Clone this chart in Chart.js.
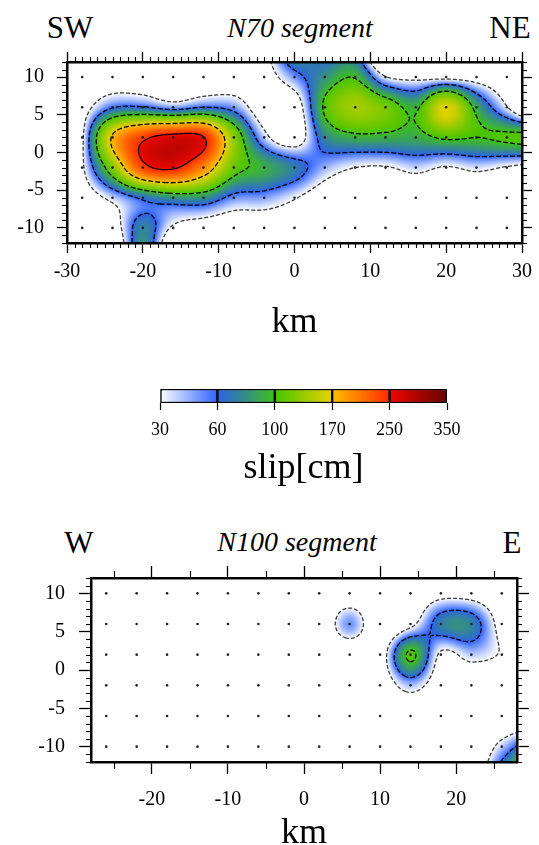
<!DOCTYPE html>
<html><head><meta charset="utf-8">
<script src="https://cdn.jsdelivr.net/npm/chart.js@4.4.1/dist/chart.umd.min.js"></script>
<style>
html,body{margin:0;padding:0;background:#fff;}
body{width:539px;height:845px;position:relative;overflow:hidden;font-family:'Liberation Serif','Times New Roman',serif;}
canvas{position:absolute;left:0;}
.lbl{position:absolute;transform:translate(-50%,-50%);white-space:nowrap;color:#000;line-height:1;}
.big{font-size:31px;}
.seg{font-size:28px;font-style:italic;}
</style></head><body>
<div class="lbl big" style="left:70px;top:27px">SW</div>
<div class="lbl seg" style="left:300px;top:28px">N70 segment</div>
<div class="lbl big" style="left:510px;top:27px">NE</div>
<div class="lbl big" style="left:79px;top:542px">W</div>
<div class="lbl seg" style="left:297px;top:542px">N100 segment</div>
<div class="lbl big" style="left:512px;top:542px">E</div>
<canvas id="c1" width="539" height="345" style="top:0"></canvas>
<canvas id="c2" width="539" height="130" style="top:370px"></canvas>
<canvas id="c3" width="539" height="340" style="top:530px"></canvas>
<script>
// ---------------- data ----------------
const TOP_X = [-28,-24,-20,-16,-12,-8,-4,0,4,8,12,16,20,24,28];
const TOP_Y = [10,6,2,-2,-6,-10];
const TOP_SLIP = [
  [5,5,5,5,5,5,15,50,80,98,32,22,20,15,5],
  [15,58,62,48,60,50,10,10,105,140,120,95,165,90,32],
  [24,175,240,265,252,130,40,12,75,92,92,90,105,100,105],
  [24,125,235,255,200,115,92,72,45,30,28,38,28,36,28],
  [10,38,65,80,80,52,48,32,12,5,5,5,5,5,5],
  [3,12,75,25,8,3,3,3,3,3,3,3,3,3,3]
];
const BOT_X = [-26,-22,-18,-14,-10,-6,-2,2,6,10,14,18,22,26];
const BOT_Y = [10,6,2,-2,-6,-10];
const BOT_SLIP = [
  [0,0,0,0,0,0,0,0,0,0,0,18,15,0],
  [0,0,0,0,0,0,0,0,50,0,22,72,74,15],
  [0,0,0,0,0,0,0,0,0,12,105,25,40,28],
  [0,0,0,0,0,0,0,0,0,8,42,10,0,0],
  [0,0,0,0,0,0,0,0,0,0,0,0,0,0],
  [0,0,0,0,0,0,0,0,0,0,0,0,0,40]
];
const CB_LEVELS = [30,60,100,170,250,350];
const CONTOUR_LEVELS = [30,60,100,170,250];
const CB_COLORS = [
  ['#ffffff','#2f63ff'],
  ['#2d62e6','#3dbf1c'],
  ['#46c400','#e9d200'],
  ['#ffc000','#ff2a00'],
  ['#f00800','#650000']
];
const SERIF = "'Liberation Serif','Times New Roman',serif";

// ---------------- helpers ----------------
function hexRgb(h){return [parseInt(h.slice(1,3),16),parseInt(h.slice(3,5),16),parseInt(h.slice(5,7),16)];}
const CB_RGB = CB_COLORS.map(p=>p.map(hexRgb));
function slipColor(v){
  if(v < CB_LEVELS[0]) return null;
  for(let k=0;k<CB_LEVELS.length-1;k++){
    if(v <= CB_LEVELS[k+1] || k===CB_LEVELS.length-2){
      const t=Math.min(1,(v-CB_LEVELS[k])/(CB_LEVELS[k+1]-CB_LEVELS[k]));
      const a=CB_RGB[k][0], b=CB_RGB[k][1];
      return [a[0]+(b[0]-a[0])*t, a[1]+(b[1]-a[1])*t, a[2]+(b[2]-a[2])*t];
    }
  }
  return null;
}
// smooth (Catmull-Rom) surface through the grid values, with one linearly
// extrapolated ghost row/column on each side so the field runs to the frame
function makeInterp(xs, ys, grid){
  const nx=xs.length, ny=ys.length, dx=xs[1]-xs[0], dy=ys[1]-ys[0];
  const ext=[];
  for(let j=-1;j<=ny;j++){
    const jj=Math.min(ny-1,Math.max(0,j));
    const row=[];
    for(let i=-1;i<=nx;i++){
      const ii=Math.min(nx-1,Math.max(0,i));
      let v=grid[jj][ii];
      if(i<0) v=2*grid[jj][0]-grid[jj][1];
      if(i>=nx) v=2*grid[jj][nx-1]-grid[jj][nx-2];
      row.push(v);
    }
    ext.push(row);
  }
  for(let i=0;i<nx+2;i++){
    ext[0][i]=2*ext[1][i]-ext[2][i];
    ext[ny+1][i]=2*ext[ny][i]-ext[ny-1][i];
  }
  const NX=nx+2, NY=ny+2;
  const g=(j,i)=>ext[Math.min(NY-1,Math.max(0,j))][Math.min(NX-1,Math.max(0,i))];
  const cr=(p0,p1,p2,p3,t)=>0.5*(2*p1+(-p0+p2)*t+(2*p0-5*p1+4*p2-p3)*t*t+(-p0+3*p1-3*p2+p3)*t*t*t);
  return (x,y)=>{
    let fi=(x-xs[0])/dx+1, fj=(y-ys[0])/dy+1;
    fi=Math.max(0,Math.min(NX-1,fi)); fj=Math.max(0,Math.min(NY-1,fj));
    const i=Math.min(NX-2,Math.floor(fi)), j=Math.min(NY-2,Math.floor(fj));
    const tx=fi-i, ty=fj-j; const r=[];
    for(let m=-1;m<=2;m++) r.push(cr(g(j+m,i-1),g(j+m,i),g(j+m,i+1),g(j+m,i+2),tx));
    return cr(r[0],r[1],r[2],r[3],ty);
  };
}
function contourLines(V,nx,ny,L){
  const P=new Map(); const segs=[];
  const add=(key,fx,fy)=>{ if(!P.has(key)) P.set(key,[fx,fy]); return key; };
  for(let j=0;j<ny-1;j++) for(let i=0;i<nx-1;i++){
    const a=V[j][i], b=V[j][i+1], c=V[j+1][i+1], d=V[j+1][i];
    const A=a<L,B=b<L,C=c<L,D=d<L;
    if(A===B&&B===C&&C===D) continue;
    const e=[];
    if(A!==B) e.push(add('h'+i+'_'+j, i+(L-a)/(b-a), j));
    if(B!==C) e.push(add('v'+(i+1)+'_'+j, i+1, j+(L-b)/(c-b)));
    if(D!==C) e.push(add('h'+i+'_'+(j+1), i+(L-d)/(c-d), j+1));
    if(A!==D) e.push(add('v'+i+'_'+j, i, j+(L-a)/(d-a)));
    if(e.length===2) segs.push(e);
    else if(e.length===4){ const m=(a+b+c+d)/4;
      if((m<L)===A){segs.push([e[0],e[1]]);segs.push([e[2],e[3]]);}
      else {segs.push([e[0],e[3]]);segs.push([e[1],e[2]]);} }
  }
  const adj=new Map();
  segs.forEach((s,n)=>s.forEach(k=>{ if(!adj.has(k)) adj.set(k,[]); adj.get(k).push(n); }));
  const used=new Array(segs.length).fill(false); const lines=[];
  for(let n=0;n<segs.length;n++){
    if(used[n]) continue; used[n]=true;
    const line=[segs[n][0],segs[n][1]];
    for(const dir of [1,-1]){
      while(true){
        const end = dir===1 ? line[line.length-1] : line[0];
        const cand=(adj.get(end)||[]).find(q=>!used[q]);
        if(cand===undefined) break;
        used[cand]=true;
        const s=segs[cand]; const nxt = s[0]===end ? s[1] : s[0];
        if(dir===1) line.push(nxt); else line.unshift(nxt);
      }
    }
    lines.push(line.map(k=>P.get(k)));
  }
  return lines;
}
function contourStyle(lv){
  if(lv===30) return {color:'#3a3a3a', width:1.3, dash:[4,2]};
  if(lv===250) return {color:'#000', width:1.2, dash:[]};
  return {color:'#000', width:1.3, dash:[5,2]};
}
function makeSlipPlugin(xs, ys, grid){
  const f=makeInterp(xs,ys,grid);
  return { id:'slipField', beforeDatasetsDraw(chart){
    const ctx=chart.ctx, a=chart.chartArea, sx=chart.scales.x, sy=chart.scales.y;
    const L=Math.round(a.left), T=Math.round(a.top), W=Math.round(a.right)-L, H=Math.round(a.bottom)-T;
    const off=document.createElement('canvas'); off.width=W; off.height=H;
    const o=off.getContext('2d'); const img=o.createImageData(W,H); const d=img.data;
    for(let py=0;py<H;py++){ const yv=sy.getValueForPixel(T+py+0.5);
      for(let px=0;px<W;px++){ const xv=sx.getValueForPixel(L+px+0.5); const c=slipColor(f(xv,yv)); const k=(py*W+px)*4;
        if(c){d[k]=c[0];d[k+1]=c[1];d[k+2]=c[2];d[k+3]=255;} } }
    o.putImageData(img,0,0); ctx.drawImage(off,L,T);
    const step=0.2, x0=sx.min, y0=sy.min;
    const nx=Math.round((sx.max-x0)/step)+1, ny=Math.round((sy.max-y0)/step)+1;
    const V=[]; for(let j=0;j<ny;j++){ const r=new Float64Array(nx); for(let i=0;i<nx;i++) r[i]=f(x0+i*step,y0+j*step); V.push(r); }
    ctx.save(); ctx.beginPath(); ctx.rect(a.left,a.top,a.right-a.left,a.bottom-a.top); ctx.clip();
    CONTOUR_LEVELS.forEach(lv=>{
      const st=contourStyle(lv); ctx.strokeStyle=st.color; ctx.lineWidth=st.width; ctx.setLineDash(st.dash); ctx.lineJoin='round';
      contourLines(V,nx,ny,lv).forEach(pts=>{
        ctx.beginPath();
        pts.forEach((p,n)=>{ const X=sx.getPixelForValue(x0+p[0]*step), Y=sy.getPixelForValue(y0+p[1]*step); n?ctx.lineTo(X,Y):ctx.moveTo(X,Y); });
        ctx.stroke();
      });
    });
    ctx.restore();
  }};
}
function makeMinorTicks(o){
  return { id:'minorTicks', afterDraw(chart){
    const ctx=chart.ctx, a=chart.chartArea, sx=chart.scales.x, sy=chart.scales.y;
    ctx.save(); ctx.strokeStyle='#000'; ctx.lineWidth=1.1; ctx.setLineDash([]);
    const ln=(x1,y1,x2,y2)=>{ctx.beginPath();ctx.moveTo(x1,y1);ctx.lineTo(x2,y2);ctx.stroke();};
    for(let k=Math.ceil(sx.min/o.xStep);k*o.xStep<=sx.max+1e-9;k++){
      const v=k*o.xStep; if(Math.abs(v/o.xMajor-Math.round(v/o.xMajor))<1e-9) continue;
      const p=Math.round(sx.getPixelForValue(v))+0.5; ln(p,a.top,p,a.top-o.xLen); ln(p,a.bottom,p,a.bottom+o.xLen);
    }
    for(let k=Math.ceil(sy.min/o.yStep);k*o.yStep<=sy.max+1e-9;k++){
      const v=k*o.yStep; if(Math.abs(v/o.yMajor-Math.round(v/o.yMajor))<1e-9) continue;
      const p=Math.round(sy.getPixelForValue(v))+0.5; ln(a.left,p,a.left-o.yLen,p); ln(a.right,p,a.right+o.yLen,p);
    }
    ctx.restore();
  }};
}
function panelScales(o){
  const grid={drawOnChartArea:false,drawTicks:true,tickLength:o.tl,tickColor:'#000',tickWidth:1.3};
  const border={display:true,color:'#000',width:2.5,z:1};
  const tfont={family:SERIF,size:20};
  return {
    x:{type:'linear',position:'bottom',min:o.xmin,max:o.xmax,
       ticks:{stepSize:10,includeBounds:false,color:'#000',font:tfont,padding:o.xPad,maxRotation:0,callback:v=>String(v)},
       grid, border,
       title:{display:true,text:'km',color:'#000',font:{family:SERIF,size:36,lineHeight:1.2},padding:{top:0,bottom:o.titlePad}},
       afterFit:s=>{s.height=o.xH;}},
    xt:{type:'linear',position:'top',min:o.xmin,max:o.xmax,
       ticks:{display:false,stepSize:10,includeBounds:false}, grid, border,
       afterFit:s=>{s.height=o.top;}},
    y:{type:'linear',position:'left',min:-12,max:12,
       ticks:{stepSize:5,includeBounds:false,color:'#000',font:tfont,padding:o.yPad,callback:v=>String(v)},
       grid, border, afterFit:s=>{s.width=o.left;}},
    yr:{type:'linear',position:'right',min:-12,max:12,
       ticks:{display:false,stepSize:5,includeBounds:false}, grid, border,
       afterFit:s=>{s.width=o.right;}}
  };
}
function dots(xs,ys){ return ys.flatMap(yv=>xs.map(xv=>({x:xv,y:yv}))); }
const common={responsive:false,animation:false,events:[],devicePixelRatio:1,
  plugins:{legend:{display:false},tooltip:{enabled:false},title:{display:false}}};

// ---------------- top panel ----------------
new Chart(document.getElementById('c1'),{
  type:'scatter',
  data:{datasets:[{data:dots(TOP_X,TOP_Y),pointRadius:1.3,pointBackgroundColor:'#222',pointBorderWidth:0}]},
  options:Object.assign({},common,{layout:{padding:0},
    scales:panelScales({xmin:-30,xmax:30,tl:10,xPad:7,yPad:13,xH:102,top:62,left:67,right:15,titlePad:1})}),
  plugins:[makeSlipPlugin(TOP_X,TOP_Y,TOP_SLIP),makeMinorTicks({xStep:1,xMajor:10,xLen:5,yStep:1,yMajor:5,yLen:5})]
});

// ---------------- colour bar ----------------
function cbGrad(chart,k){
  const a=chart.chartArea; if(!a) return CB_COLORS[k][0];
  const sx=chart.scales.x;
  const g=chart.ctx.createLinearGradient(sx.getPixelForValue(k),0,sx.getPixelForValue(k+1),0);
  g.addColorStop(0,CB_COLORS[k][0]); g.addColorStop(1,CB_COLORS[k][1]); return g;
}
new Chart(document.getElementById('c2'),{
  type:'bar',
  data:{labels:[''],datasets:CB_LEVELS.slice(0,-1).map((lv,k)=>({
    data:[1],backgroundColor:(c)=>cbGrad(c.chart,k),borderColor:'#000',borderWidth:1.5,borderSkipped:false,
    barPercentage:1,categoryPercentage:1}))},
  options:Object.assign({},common,{indexAxis:'y',layout:{padding:{left:160,right:92,top:19,bottom:0}},
    scales:{
      x:{type:'linear',stacked:true,min:0,max:CB_LEVELS.length-1,
         ticks:{stepSize:1,color:'#000',font:{family:SERIF,size:18},padding:9,maxRotation:0,callback:v=>String(CB_LEVELS[v])},
         grid:{drawOnChartArea:false,drawTicks:true,tickLength:7,tickColor:'#000',tickWidth:1.2},
         border:{display:false},
         title:{display:true,text:'slip[cm]',color:'#000',font:{family:SERIF,size:36,lineHeight:1.2},padding:{top:0,bottom:10}},
         afterFit:s=>{s.height=97;}},
      y:{stacked:true,display:false}
    }})
});

// ---------------- bottom panel ----------------
new Chart(document.getElementById('c3'),{
  type:'scatter',
  data:{datasets:[{data:dots(BOT_X,BOT_Y),pointRadius:1.3,pointBackgroundColor:'#222',pointBorderWidth:0}]},
  options:Object.assign({},common,{layout:{padding:0},
    scales:panelScales({xmin:-28,xmax:28,tl:12,xPad:14,yPad:14,xH:108,top:48,left:91,right:22,titlePad:15})}),
  plugins:[makeSlipPlugin(BOT_X,BOT_Y,BOT_SLIP),makeMinorTicks({xStep:5,xMajor:10,xLen:7,yStep:1,yMajor:5,yLen:5})]
});
</script>
</body></html>
